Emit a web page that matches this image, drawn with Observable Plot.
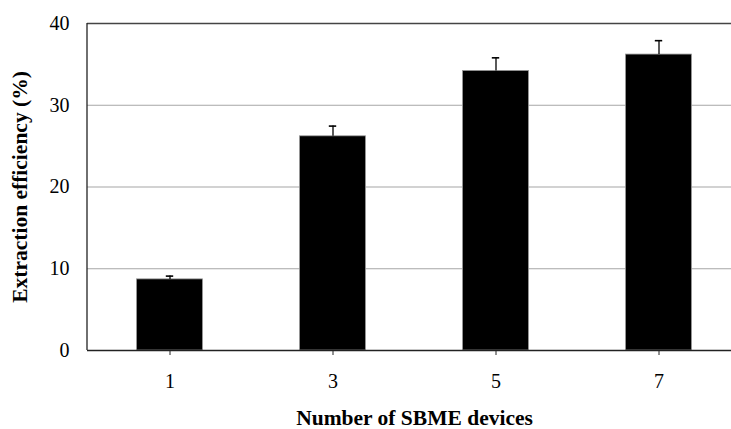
<!DOCTYPE html>
<html><head><meta charset="utf-8">
<script src="https://cdn.jsdelivr.net/npm/d3@7"></script>
<script src="https://cdn.jsdelivr.net/npm/@observablehq/plot@0.6"></script>
<style>body{margin:0;background:#fff}</style>
</head><body><div id="chart"></div>
<script>
const categories = ["1", "3", "5", "7"];
const means = [8.7, 26.2, 34.2, 36.2];
const errors = [0.4, 1.25, 1.6, 1.7];
const yTicks = [0, 10, 20, 30, 40];
const gridLines = [10, 20, 30];

const data = categories.map((c, i) => ({cat: c, v: means[i], hi: means[i] + errors[i]}));

const font = "'Liberation Serif', 'Times New Roman', serif";
const plot = Plot.plot({
  width: 731, height: 429,
  marginLeft: 87, marginTop: 23, marginBottom: 79, marginRight: -10,
  style: {fontFamily: font, fontSize: "20px", color: "#000", background: "#fff"},
  x: {domain: categories, padding: 0},
  y: {domain: [0, 40]},
  marks: [
    Plot.ruleY(gridLines, {stroke: "#a6a6a6", strokeWidth: 1.2}),
    Plot.ruleY([40], {stroke: "#444", strokeWidth: 1.3}),
    Plot.barY(data, {x: "cat", y: "v", fill: "#000", stroke: "#999", strokeWidth: 0.8, insetLeft: 48.5, insetRight: 48.5}),
    Plot.ruleX(data, {x: "cat", y1: "v", y2: "hi", stroke: "#000", strokeWidth: 1.3}),
    Plot.tickY(data, {x: "cat", y: "hi", stroke: "#000", strokeWidth: 1.6, insetLeft: 77.8, insetRight: 77.8}),
    Plot.ruleY([0], {stroke: "#222", strokeWidth: 1.3}),
    Plot.axisX({tickSize: 5, tickPadding: 18, stroke: "#222", label: "Number of SBME devices", labelAnchor: "center", labelArrow: "none", labelOffset: 74}),
    Plot.axisY({ticks: yTicks, tickSize: 0, tickPadding: 18, label: "Extraction efficiency (%)", labelAnchor: "center", labelArrow: "none", labelOffset: 76})
  ]
});
document.getElementById("chart").appendChild(plot);
const svg = d3.select(plot);
svg.selectAll("[aria-label='x-axis label'] text, [aria-label='y-axis label'] text").attr("font-weight", "bold").attr("font-size", "21.5px");
const xs = plot.scale("x"), ys = plot.scale("y");
svg.append("line").attr("x1", xs.range[0]).attr("x2", xs.range[0])
  .attr("y1", ys.apply(0)).attr("y2", ys.apply(40)).attr("stroke", "#222").attr("stroke-width", 1.3);
</script></body></html>
